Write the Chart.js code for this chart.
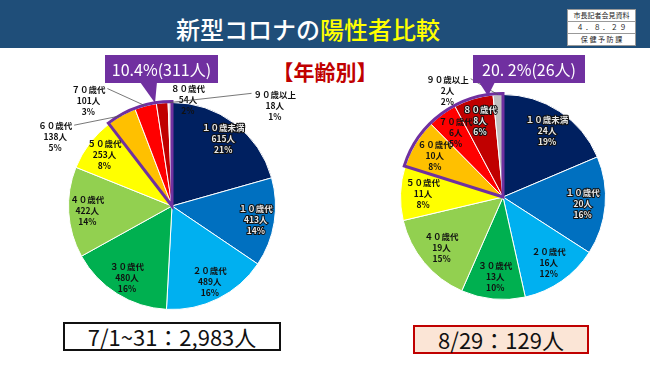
<!DOCTYPE html>
<html>
<head>
<meta charset="utf-8">
<script src="https://cdn.jsdelivr.net/npm/chart.js@4.4.1/dist/chart.umd.min.js"></script>
<style>
  body { margin: 0; width: 650px; height: 365px; background: #fff; position: relative; overflow: hidden; font-family: "Noto Sans CJK JP", sans-serif; }
  .band { position: absolute; left: 0; top: 0; width: 650px; height: 48px; background: #1f4e79; }
  .title { position: absolute; left: 176px; top: 17px; font-size: 24px; line-height: 24px; color: #fff; font-weight: 500; white-space: nowrap; }
  .title span { color: #ffff00; }
  .stamp { position: absolute; left: 567px; top: 9px; width: 67px; background: #fff; border: 1px solid #999; font-size: 7px; color: #222; }
  .stamp div { height: 11px; line-height: 11px; text-align: center; border-bottom: 1px solid #999; white-space: nowrap; }
  .stamp div:last-child { border-bottom: none; }
  .age { position: absolute; left: 0; width: 650px; top: 59px; text-align: center; font-size: 21px; line-height: 24px; font-weight: bold; color: #c00000; }
  .total { position: absolute; text-align: center; font-size: 22px; color: #111; white-space: nowrap; }
  canvas { position: absolute; left: 0; top: 0; }
</style>
</head>
<body>
<div class="band"></div>
<div class="title">新型コロナの<span>陽性者比較</span></div>
<div class="stamp"><div>市長記者会見資料</div><div>４ ． ８ ． ２ ９</div><div>保 健 予 防 課</div></div>
<div class="age">【年齢別】</div>
<div class="total" style="left:63px;top:322px;width:214px;height:25px;line-height:25px;border:2px solid #111;background:#fff;">7/1~31：2,983人</div>
<div class="total" style="left:413px;top:325px;width:172px;height:25px;line-height:25px;border:2px solid #c00000;background:#fbe5d6;">8/29：129人</div>
<canvas id="julyChart" width="650" height="365"></canvas>
<canvas id="augChart" width="650" height="365"></canvas>
<script>
// 年齢区分
const ageLabels = ['１０歳未満', '１０歳代', '２０歳代', '３０歳代', '４０歳代', '５０歳代', '６０歳代', '７０歳代', '８０歳代', '９０歳以上'];

// 7/1~31 の陽性者数と割合
const julyCounts = [615, 413, 489, 480, 422, 253, 138, 101, 54, 18];
const julyPct = [21, 14, 16, 16, 14, 8, 5, 3, 2, 1];

// 8/29 の陽性者数と割合
const augCounts = [24, 20, 16, 13, 19, 11, 10, 6, 8, 2];
const augPct = [19, 16, 12, 10, 15, 8, 8, 5, 6, 2];

// 60歳以上のまとめ
const julyElderText = '10.4%(311人)';
const augElderText = '20. 2%(26人)';

const baseColors = ['#002060', '#0070c0', '#00b0f0', '#00b050', '#92d050', '#ffff00', '#ffc000', '#ff0000', '#c00000'];
const darkSlices = [0, 1, 8];

// 円グラフの上に文字・枠・吹き出しを描く
const ageDeco = {
  id: 'ageDeco',
  afterDatasetsDraw(chart, args, o) {
    const ctx = chart.ctx;
    const arcs = chart.getDatasetMeta(0).data;
    const cx = arcs[0].x, cy = arcs[0].y, r = arcs[0].outerRadius;
    const counts = chart.data.datasets[0].data;
    const pt = (deg, d) => {
      const a = deg * Math.PI / 180 - Math.PI / 2;
      return [cx + Math.cos(a) * d, cy + Math.sin(a) * d];
    };
    const midDeg = arc => ((arc.startAngle + arc.endAngle) / 2 + Math.PI / 2) * 180 / Math.PI;

    // 60歳以上の紫枠
    ctx.save();
    ctx.beginPath();
    ctx.moveTo(cx, cy);
    ctx.arc(cx, cy, r + 1, arcs[6].startAngle, arcs[9].endAngle);
    ctx.closePath();
    ctx.lineWidth = 3;
    ctx.strokeStyle = '#7030a0';
    ctx.stroke();
    ctx.restore();

    // ラベル
    ctx.save();
    ctx.font = 'bold 8.5px "Noto Sans CJK JP"';
    ctx.textAlign = 'center';
    ctx.textBaseline = 'middle';
    arcs.forEach((arc, i) => {
      const lines = [ageLabels[i], counts[i] + '人', o.pct[i] + '%'];
      const out = o.outside[i];
      let x, y;
      if (out) {
        [x, y] = pt(out.ang, out.k * r);
      } else {
        [x, y] = pt(midDeg(arc), o.k * r);
      }
      if (out && out.leader) {
        const w = ctx.measureText(lines[0]).width;
        const [ex, ey] = pt(midDeg(arc), r);
        const sx = ex > x ? x + w / 2 + 2 : x - w / 2 - 2;
        ctx.beginPath();
        ctx.moveTo(sx, y - 12);
        ctx.lineTo(ex, ey);
        ctx.lineWidth = 0.8;
        ctx.strokeStyle = '#555';
        ctx.stroke();
      }
      lines.forEach((t, j) => {
        const ly = y + (j - 1) * 11;
        if (!out && darkSlices.includes(i)) {
          ctx.lineWidth = 2;
          ctx.strokeStyle = '#111';
          ctx.strokeText(t, x, ly);
          ctx.fillStyle = '#e8e8e8';
        } else {
          ctx.fillStyle = '#111';
        }
        ctx.fillText(t, x, ly);
      });
    });
    ctx.restore();

    // 吹き出し
    const c = o.callout;
    ctx.save();
    ctx.fillStyle = '#7030a0';
    ctx.fillRect(c.x, c.y, c.w, c.h);
    ctx.beginPath();
    ctx.moveTo(c.b0, c.y + c.h - 1);
    ctx.lineTo(c.b1, c.y + c.h - 1);
    ctx.lineTo(c.tx, c.ty);
    ctx.closePath();
    ctx.fill();
    ctx.font = '16px "Noto Sans CJK JP"';
    ctx.fillStyle = '#fff';
    ctx.textAlign = 'center';
    ctx.textBaseline = 'middle';
    ctx.fillText(c.text, c.x + c.w / 2, c.y + c.h / 2 + 1);
    ctx.restore();
  }
};

function makePie(id, counts, pct, lastColor, pad, deco) {
  new Chart(document.getElementById(id), {
    type: 'pie',
    data: {
      labels: ageLabels,
      datasets: [{
        data: counts,
        backgroundColor: baseColors.concat([lastColor]),
        borderColor: '#fff',
        borderWidth: 1
      }]
    },
    options: {
      responsive: false,
      animation: false,
      layout: { padding: pad },
      plugins: {
        legend: { display: false },
        tooltip: { enabled: false },
        ageDeco: Object.assign({ pct: pct }, deco)
      }
    },
    plugins: [ageDeco]
  });
}

makePie('julyChart', julyCounts, julyPct, '#f2dcdb',
  { left: 68, right: 374, top: 102, bottom: 55 },
  {
    k: 0.82,
    outside: {
      6: { ang: 300.5, k: 1.31, leader: true },
      7: { ang: 321.6, k: 1.30, leader: true },
      8: { ang: 8.5, k: 1.04 },
      9: { ang: 45.6, k: 1.39, leader: true }
    },
    callout: { text: julyElderText, x: 105, y: 55, w: 113, h: 28, b0: 140, b1: 157, tx: 155, ty: 103 }
  });

makePie('augChart', augCounts, augPct, '#bfbfbf',
  { left: 400, right: 44, top: 94, bottom: 65 },
  {
    k: 0.78,
    outside: {
      9: { ang: 332.4, k: 1.17, leader: true }
    },
    callout: { text: augElderText, x: 473, y: 55, w: 112, h: 28, b0: 479, b1: 495, tx: 488, ty: 96 }
  });
</script>
</body>
</html>
